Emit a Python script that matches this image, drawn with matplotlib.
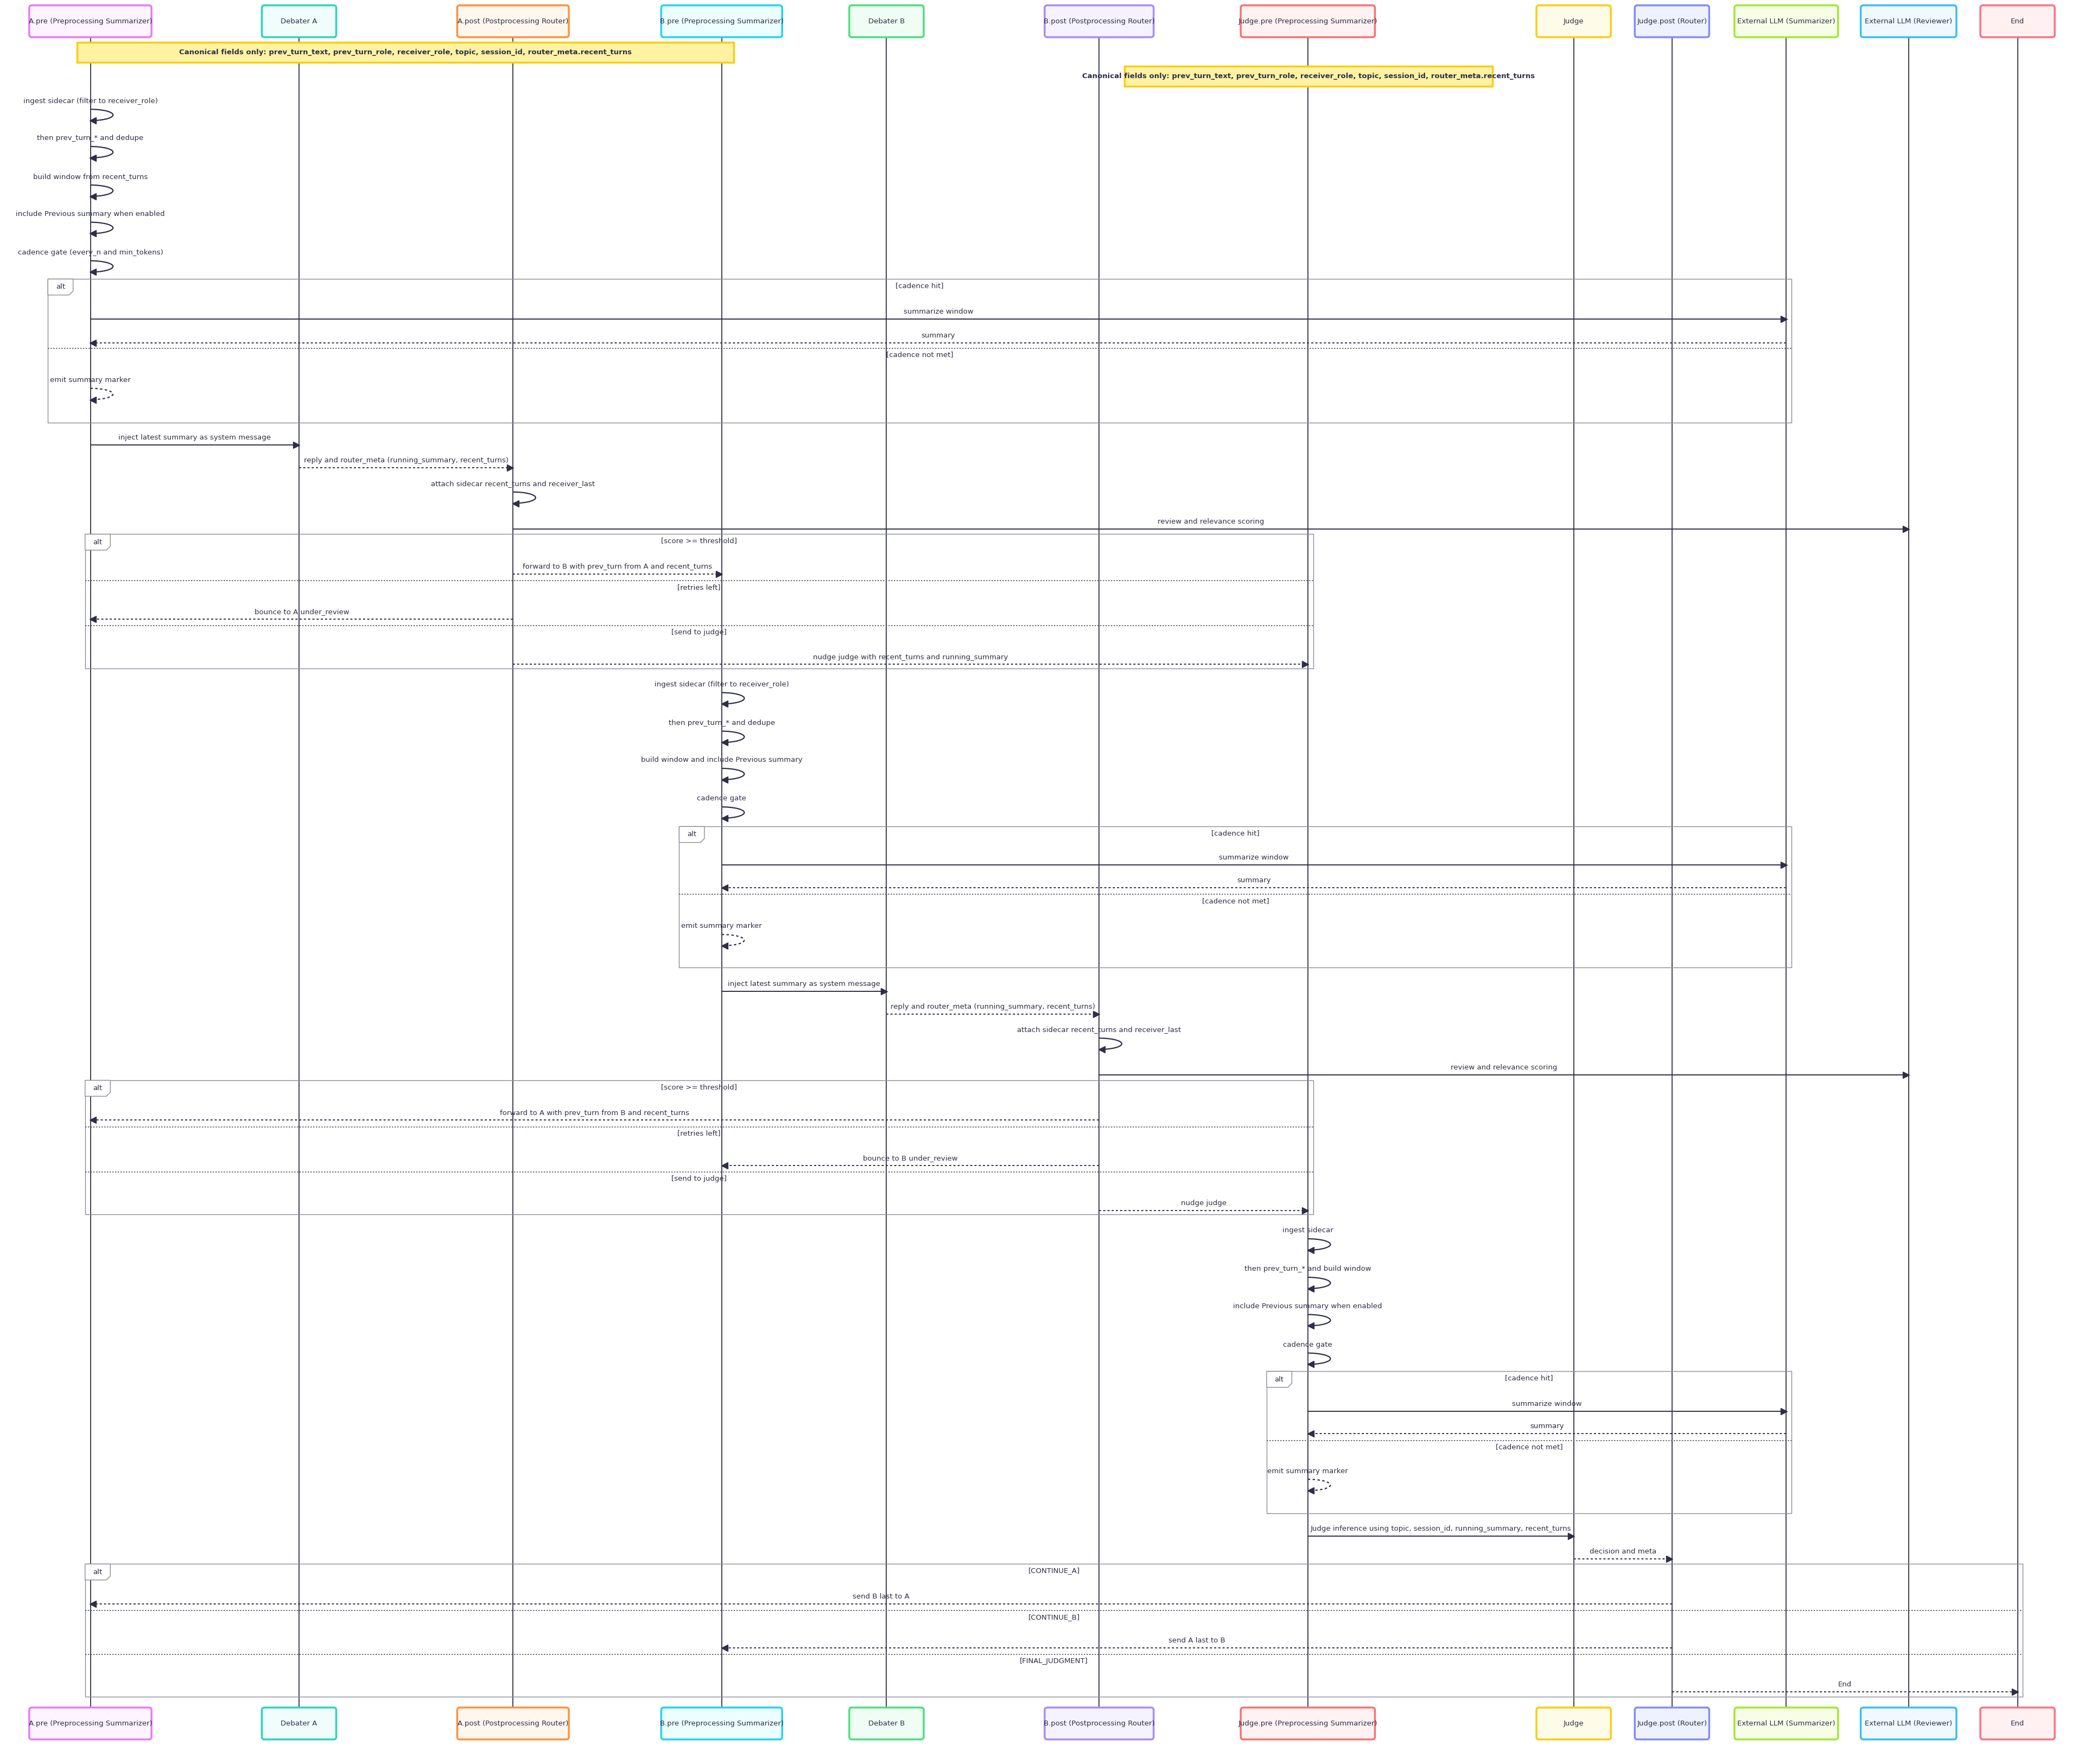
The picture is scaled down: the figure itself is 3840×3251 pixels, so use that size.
import matplotlib.pyplot as plt
from matplotlib.patches import FancyBboxPatch, Rectangle, Arc, Polygon

# participants: name, lifeline x, box width, border colour, fill colour
names = ["A.pre (Preprocessing Summarizer)", "Debater A", "A.post (Postprocessing Router)",
         "B.pre (Preprocessing Summarizer)", "Debater B", "B.post (Postprocessing Router)",
         "Judge.pre (Preprocessing Summarizer)", "Judge", "Judge.post (Router)",
         "External LLM (Summarizer)", "External LLM (Reviewer)", "End"]
xs = [68, 225, 386, 543, 667, 827, 984, 1184, 1258, 1344, 1436, 1518]
widths = [92, 56, 84, 91, 56, 82, 101, 56, 56, 78, 72, 56]
borders = ["#e879f9", "#2dd4bf", "#fb923c", "#22d3ee", "#4ade80", "#a78bfa",
           "#f87171", "#facc15", "#818cf8", "#a3e635", "#38bdf8", "#fb7185"]
fills = ["#fdf4ff", "#f0fdfa", "#fff7ed", "#ecfeff", "#f0fdf4", "#f5f3ff",
         "#fef2f2", "#fefce8", "#eef2ff", "#f7fee7", "#f0f9ff", "#fff1f2"]

NOTE = "Canonical fields only: prev_turn_text, prev_turn_role, receiver_role, topic, session_id, router_meta.recent_turns"
notes = [(58, 552, 32, 47), (846, 1123, 50, 65)]

# events: ("msg", src, dst, y, label, dashed) / ("self", who, y, label, dashed)
events = [
    ("self", 0, 76, "ingest sidecar (filter to receiver_role)", False),
    ("self", 0, 104, "then prev_turn_* and dedupe", False),
    ("self", 0, 133, "build window from recent_turns", False),
    ("self", 0, 161, "include Previous summary when enabled", False),
    ("self", 0, 190, "cadence gate (every_n and min_tokens)", False),
    ("msg", 0, 9, 240, "summarize window", False),
    ("msg", 9, 0, 258, "summary", True),
    ("self", 0, 286, "emit summary marker", True),
    ("msg", 0, 1, 335, "inject latest summary as system message", False),
    ("msg", 1, 2, 352, "reply and router_meta (running_summary, recent_turns)", True),
    ("self", 2, 364, "attach sidecar recent_turns and receiver_last", False),
    ("msg", 2, 10, 398, "review and relevance scoring", False),
    ("msg", 2, 3, 432, "forward to B with prev_turn from A and recent_turns", True),
    ("msg", 2, 0, 466, "bounce to A under_review", True),
    ("msg", 2, 6, 500, "nudge judge with recent_turns and running_summary", True),
    ("self", 3, 515, "ingest sidecar (filter to receiver_role)", False),
    ("self", 3, 544, "then prev_turn_* and dedupe", False),
    ("self", 3, 572, "build window and include Previous summary", False),
    ("self", 3, 601, "cadence gate", False),
    ("msg", 3, 9, 651, "summarize window", False),
    ("msg", 9, 3, 668, "summary", True),
    ("self", 3, 697, "emit summary marker", True),
    ("msg", 3, 4, 746, "inject latest summary as system message", False),
    ("msg", 4, 5, 763, "reply and router_meta (running_summary, recent_turns)", True),
    ("self", 5, 775, "attach sidecar recent_turns and receiver_last", False),
    ("msg", 5, 10, 809, "review and relevance scoring", False),
    ("msg", 5, 0, 843, "forward to A with prev_turn from B and recent_turns", True),
    ("msg", 5, 3, 877, "bounce to B under_review", True),
    ("msg", 5, 6, 911, "nudge judge", True),
    ("self", 6, 926, "ingest sidecar", False),
    ("self", 6, 955, "then prev_turn_* and build window", False),
    ("self", 6, 983, "include Previous summary when enabled", False),
    ("self", 6, 1012, "cadence gate", False),
    ("msg", 6, 9, 1062, "summarize window", False),
    ("msg", 9, 6, 1079, "summary", True),
    ("self", 6, 1107, "emit summary marker", True),
    ("msg", 6, 7, 1156, "Judge inference using topic, session_id, running_summary, recent_turns", False),
    ("msg", 7, 8, 1173, "decision and meta", True),
    ("msg", 8, 0, 1207, "send B last to A", True),
    ("msg", 8, 3, 1240, "send A last to B", True),
    ("msg", 8, 11, 1273, "End", True),
]

# alt frames: x0, x1, y0, y1, [(separator y, condition)]
alts = [
    (36, 1348, 210, 318, [(210, "[cadence hit]"), (262, "[cadence not met]")]),
    (64, 988, 402, 503, [(402, "[score >= threshold]"), (437, "[retries left]"), (471, "[send to judge]")]),
    (511, 1348, 622, 728, [(622, "[cadence hit]"), (673, "[cadence not met]")]),
    (64, 988, 813, 914, [(813, "[score >= threshold]"), (848, "[retries left]"), (882, "[send to judge]")]),
    (953, 1348, 1032, 1139, [(1032, "[cadence hit]"), (1084, "[cadence not met]")]),
    (64, 1522, 1177, 1277, [(1177, "[CONTINUE_A]"), (1212, "[CONTINUE_B]"), (1245, "[FINAL_JUDGMENT]")]),
]

INK = "#2e2e48"
FS = 9.5

fig = plt.figure(figsize=(38.4, 32.51), dpi=100)
ax = fig.add_axes([0, 0, 1, 1])
ax.set_xlim(0, 1568)
ax.set_ylim(1327.5, 0)
ax.axis("off")

for x, w, bc, fc, n in zip(xs, widths, borders, fills, names):
    ax.plot([x, x], [28, 1285], color=INK, lw=1.3, zorder=1)
    for y0 in (4, 1285):
        ax.add_patch(FancyBboxPatch((x - w / 2, y0), w, 24, boxstyle="round,pad=0,rounding_size=2",
                                    fc=fc, ec=bc, lw=2.5, zorder=3))
        ax.text(x, y0 + 12, n, ha="center", va="center", fontsize=FS, color=INK, zorder=4)

for x0, x1, y0, y1 in notes:
    ax.add_patch(Rectangle((x0, y0), x1 - x0, y1 - y0, fc="#fff3a3", ec="#facc15", lw=2.5, zorder=3))
    ax.text((x0 + x1) / 2, (y0 + y1) / 2, NOTE, ha="center", va="center", fontsize=FS,
            fontweight="bold", color=INK, zorder=4)

for x0, x1, y0, y1, parts in alts:
    ax.add_patch(Rectangle((x0, y0), x1 - x0, y1 - y0, fill=False, ec="#8a8a9a", lw=1.0, zorder=2))
    ax.add_patch(Polygon([(x0, y0), (x0 + 19, y0), (x0 + 19, y0 + 9), (x0 + 16, y0 + 12), (x0, y0 + 12)],
                         closed=True, fc="white", ec="#8a8a9a", lw=1.0, zorder=2))
    ax.text(x0 + 9.5, y0 + 6, "alt", ha="center", va="center", fontsize=FS, color=INK, zorder=4)
    for i, (sy, cond) in enumerate(parts):
        if i > 0:
            ax.plot([x0, x1], [sy, sy], color="#555566", lw=1.2, ls=(0, (1.5, 1.5)), zorder=2)
        ax.text((x0 + x1) / 2, sy + 5, cond, ha="center", va="center", fontsize=FS, color=INK, zorder=4)

for ev in events:
    ls = (0, (2, 2)) if ev[-1] else "-"
    if ev[0] == "msg":
        _, s, d, y, lab, dash = ev
        x0, x1 = xs[s], xs[d]
        sgn = 1 if x1 > x0 else -1
        ax.plot([x0, x1 - sgn * 2], [y, y], color=INK, lw=1.4, ls=ls, zorder=3)
        ax.plot(x1 - sgn * 2, y, marker=">" if sgn > 0 else "<", color=INK, ms=8, zorder=3)
        ax.text((x0 + x1) / 2, y - 5.5, lab, ha="center", va="center", fontsize=FS, color=INK, zorder=4)
    else:
        _, w, y, lab, dash = ev
        x = xs[w]
        ax.text(x, y, lab, ha="center", va="center", fontsize=FS, color=INK, zorder=4)
        arc = Arc((x, y + 10.5), 34, 8.5, theta1=-90, theta2=90, color=INK, lw=1.6, zorder=3)
        if dash:
            arc.set_linestyle((0, (2, 2)))
        ax.add_patch(arc)
        ax.plot(x + 2, y + 14.75, marker="<", color=INK, ms=8, zorder=3)

plt.savefig("out.png", dpi=100, facecolor="white")
